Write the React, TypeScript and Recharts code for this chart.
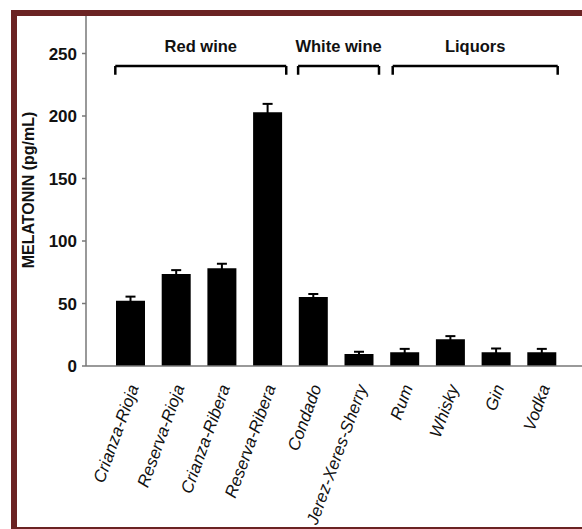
import React from 'react';
import { BarChart, Bar, XAxis, YAxis, ErrorBar, ReferenceLine } from 'recharts';

const categories = [
  'Crianza-Rioja', 'Reserva-Rioja', 'Crianza-Ribera', 'Reserva-Ribera', 'Condado',
  'Jerez-Xeres-Sherry', 'Rum', 'Whisky', 'Gin', 'Vodka',
];
const melatonin = [52.3, 73.7, 78.2, 203, 55.2, 9.6, 11, 21.4, 11, 11];
const errors = [3.2, 3, 3.6, 6.7, 2.4, 1.8, 2.7, 2.5, 3, 2.7];
const yTicks = [0, 50, 100, 150, 200, 250];

const groupNames = ['Red wine', 'White wine', 'Liquors'];
const groupFrom = [-0.34, 3.66, 5.73];
const groupTo = [3.4, 5.43, 9.34];
const bracketY = 240;
const bracketFoot = 233;

const data = categories.map((name, i) => ({ name, idx: i, value: melatonin[i], err: errors[i] }));

const FONT = '"Liberation Sans", Arial, Helvetica, sans-serif';
const AXIS = '#777';
const PAD = { left: 22, right: 17 };

const XTick = (props: any) => {
  const { x, y, payload } = props;
  return (
    <g transform={`translate(${x + 2},${y + 11})`}>
      <text
        transform="rotate(-70)"
        textAnchor="end"
        dy="0.38em"
        fontSize={17}
        fontStyle="italic"
        fontFamily={FONT}
        fill="#111"
      >
        {payload.value}
      </text>
    </g>
  );
};

const YLabel = (props: any) => {
  const { viewBox } = props;
  const cx = 28;
  const cy = viewBox.y + viewBox.height / 2 - 1;
  return (
    <text
      x={cx}
      y={cy}
      transform={`rotate(-90, ${cx}, ${cy})`}
      textAnchor="middle"
      dominantBaseline="central"
      fontSize={16}
      fontWeight="bold"
      fontFamily={FONT}
      fill="#111"
    >
      MELATONIN (pg/mL)
    </text>
  );
};

export default function App() {
  return (
    <div style={{ position: 'absolute', left: 0, top: 0, width: 582, height: 529, background: '#fff', overflow: 'hidden' }}>
      <BarChart
        width={582}
        height={529}
        data={data}
        margin={{ top: 16, right: 0, left: 0, bottom: 13 }}
        barSize={29}
      >
        <XAxis
          dataKey="name"
          height={150}
          padding={PAD}
          tickLine={false}
          axisLine={{ stroke: AXIS, strokeWidth: 1.5 }}
          tick={<XTick />}
          interval={0}
        />
        <XAxis
          xAxisId="b"
          dataKey="idx"
          type="number"
          domain={[-0.5, 9.5]}
          allowDataOverflow
          padding={PAD}
          hide
        />
        <YAxis
          width={86}
          domain={[0, 280]}
          ticks={yTicks}
          tickSize={4}
          tickMargin={5}
          axisLine={{ stroke: AXIS, strokeWidth: 1.5 }}
          tickLine={{ stroke: AXIS, strokeWidth: 1.5 }}
          tick={{ fontSize: 17, fontWeight: 'bold', fill: '#111', fontFamily: FONT }}
          label={<YLabel />}
        />
        <Bar dataKey="value" fill="#000" isAnimationActive={false}>
          <ErrorBar dataKey="err" width={5} stroke="#000" strokeWidth={2} direction="y" />
        </Bar>
        {groupNames.map((g, i) => (
          <ReferenceLine
            key={`h${i}`}
            xAxisId="b"
            ifOverflow="visible"
            segment={[{ x: groupFrom[i], y: bracketY }, { x: groupTo[i], y: bracketY }]}
            stroke="#000"
            strokeWidth={2.5}
            label={{
              value: g,
              position: 'top',
              offset: 14,
              fill: '#111',
              fontSize: 16.5,
              fontWeight: 'bold',
              fontFamily: FONT,
            }}
          />
        ))}
        {groupNames.map((g, i) => (
          <ReferenceLine
            key={`l${i}`}
            xAxisId="b"
            ifOverflow="visible"
            segment={[{ x: groupFrom[i], y: bracketY }, { x: groupFrom[i], y: bracketFoot }]}
            stroke="#000"
            strokeWidth={2.5}
          />
        ))}
        {groupNames.map((g, i) => (
          <ReferenceLine
            key={`r${i}`}
            xAxisId="b"
            ifOverflow="visible"
            segment={[{ x: groupTo[i], y: bracketY }, { x: groupTo[i], y: bracketFoot }]}
            stroke="#000"
            strokeWidth={2.5}
          />
        ))}
      </BarChart>
      <div style={{ position: 'absolute', left: 11, top: 10, width: 571, height: 6, background: '#6b2323' }} />
      <div style={{ position: 'absolute', left: 11, top: 10, width: 6, height: 519, background: '#6b2323' }} />
      <div style={{ position: 'absolute', left: 11, top: 527, width: 571, height: 2, background: '#6b2323' }} />
    </div>
  );
}
